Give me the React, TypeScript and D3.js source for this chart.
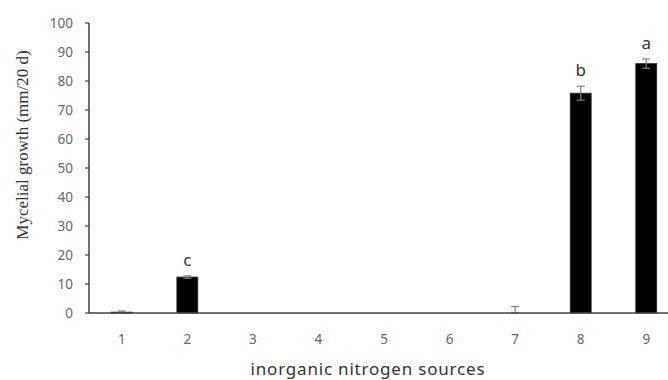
import React from "react";
import * as d3 from "d3";

const categories = ["1", "2", "3", "4", "5", "6", "7", "8", "9"];
const values = [0.3, 12.4, 0, 0, 0, 0, 0, 75.8, 86.0];
const errors = [0.4, 0.4, 0, 0, 0, 0, 2.2, 2.4, 1.6];
const letters = ["", "c", "", "", "", "", "", "b", "a"];
const yTicks = [0, 10, 20, 30, 40, 50, 60, 70, 80, 90, 100];

export default function App() {
  const W = 668, H = 380;
  const x0 = 89;
  const step = 65.56;
  const x = d3.scaleBand<string>().domain(categories).range([x0, x0 + step * categories.length]).paddingInner(0.68).paddingOuter(0.34);
  const y = d3.scaleLinear().domain([0, 100]).range([313, 23]);
  const bw = x.bandwidth();
  const tickColor = "#666";
  return (
    <svg width={W} height={H} style={{ position: "absolute", left: 0, top: 0, background: "#fff" }}>
      {/* y axis */}
      <line x1={x0} x2={x0} y1={y(100)} y2={y(0)} stroke="#404040" strokeWidth={1.5} />
      {yTicks.map((t) => (
        <g key={t}>
          <line x1={x0 - 4} x2={x0} y1={y(t)} y2={y(t)} stroke="#404040" strokeWidth={1.2} />
          <text x={73} y={y(t)} dy="0.35em" textAnchor="end" fontFamily="Noto Sans, sans-serif" fontSize={13.5} fill={tickColor}>{t}</text>
        </g>
      ))}
      {/* bars */}
      {categories.map((c, i) => {
        const cx = (x(c) as number) + bw / 2;
        const v = values[i];
        const e = errors[i];
        return (
          <g key={c}>
            {v > 0 && (
              <rect x={x(c)} y={y(v)} width={bw} height={y(0) - y(v)} fill="#000" stroke="#333" strokeWidth={0.8} />
            )}
            {e > 0 && (
              <g stroke="#808080" strokeWidth={1.2}>
                <line x1={cx} x2={cx} y1={y(v + e)} y2={y(Math.max(0, v - e))} />
                <line x1={cx - 4} x2={cx + 4} y1={y(v + e)} y2={y(v + e)} />
                <line x1={cx - 4} x2={cx + 4} y1={y(Math.max(0, v - e))} y2={y(Math.max(0, v - e))} />
              </g>
            )}
            {letters[i] && (
              <text x={cx} y={y(v + e) - 10} textAnchor="middle" fontFamily="Noto Sans, sans-serif" fontSize={17} fill="#333">{letters[i]}</text>
            )}
            <text x={cx} y={339} dy="0.35em" textAnchor="middle" fontFamily="Noto Sans, sans-serif" fontSize={13.5} fill={tickColor}>{c}</text>
          </g>
        );
      })}
      {/* x axis */}
      <line x1={x0} x2={W} y1={y(0)} y2={y(0)} stroke="#404040" strokeWidth={1.5} />
      <text x={368} y={369} dy="0.35em" textAnchor="middle" fontFamily="Noto Sans, sans-serif" fontSize={17} letterSpacing={0.8} fill="#333">inorganic nitrogen sources</text>
      <text transform={`translate(22,145) rotate(-90)`} textAnchor="middle" dy="0.35em" fontFamily="Liberation Serif, serif" fontSize={17} fill="#333">Mycelial growth (mm/20 d)</text>
    </svg>
  );
}
